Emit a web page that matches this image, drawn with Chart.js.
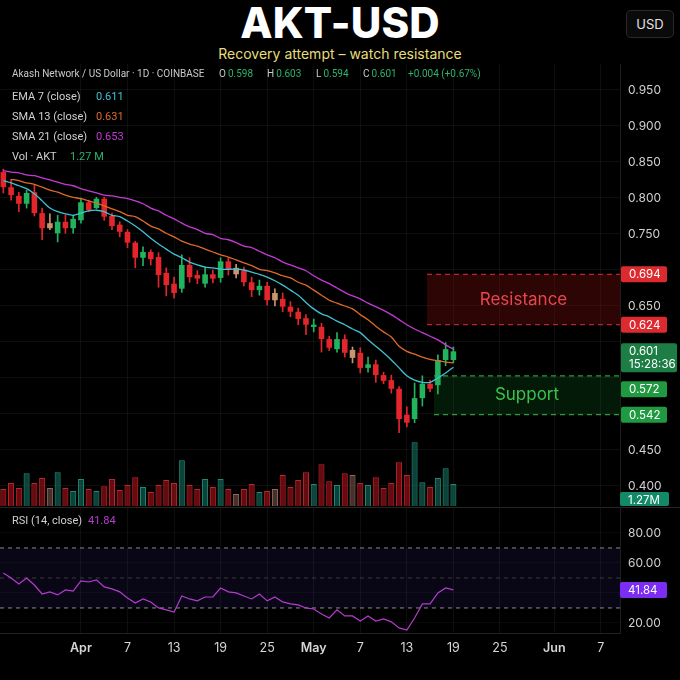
<!DOCTYPE html>
<html>
<head>
<meta charset="utf-8">
<title>AKT-USD</title>
<script src="https://cdn.jsdelivr.net/npm/chart.js@4.4.1/dist/chart.umd.min.js"></script>
<style>
  html, body { margin: 0; padding: 0; background: #000; }
  body { width: 680px; height: 680px; position: relative; overflow: hidden; font-family: Inter, "Noto Sans", sans-serif; color: #cfcfcf; }
  .box { position: absolute; left: 0; width: 680px; }
  #mainBox { top: 64px; height: 442px; }
  #rsiBox { top: 507px; height: 173px; }
  .txt { position: absolute; white-space: nowrap; z-index: 2; }
  #title { top: 1px; left: 0; width: 680px; text-align: center; font-size: 42px; font-weight: 800; line-height: 44px; color: #fff; letter-spacing: 0.2px; }
  #subtitle { top: 45px; left: 0; width: 680px; text-align: center; font-size: 14px; line-height: 18px; color: #e6de78; }
  #usd { top: 10px; left: 626px; width: 46px; height: 26px; border: 1px solid #2a2a2a; border-radius: 5px; background: #0a0a0a; color: #e2e2e2; font-size: 13px; line-height: 26px; text-align: center; z-index: 2; position: absolute; }
  .info { font-family: Roboto, sans-serif; font-size: 10px; line-height: 14px; color: #c9c9c9; }
  .leg { font-family: Roboto, sans-serif; font-size: 11px; line-height: 14px; color: #d0d0d0; }
  .up { color: #2db36b; }
</style>
</head>
<body>
<div id="title" class="txt">AKT-USD</div>
<div id="subtitle" class="txt">Recovery attempt – watch resistance</div>
<div id="usd">USD</div>
<div id="overlay"></div>
<div id="mainBox" class="box"><canvas id="mainCanvas"></canvas></div>
<div id="rsiBox" class="box"><canvas id="rsiCanvas"></canvas></div>

<script>
// --- Data (daily candles, first candle = firstDay) ---
const firstDay = '2025-03-22';

const opens = [
  0.836, 0.815, 0.803, 0.792, 0.808, 0.779, 0.765, 0.751, 0.767, 0.758,
  0.769, 0.794, 0.786, 0.799, 0.775, 0.763, 0.753, 0.738, 0.717, 0.725,
  0.718, 0.696, 0.681, 0.674, 0.707, 0.693, 0.681, 0.694, 0.689, 0.712,
  0.703, 0.699, 0.683, 0.672, 0.678, 0.668, 0.660, 0.649, 0.642, 0.633,
  0.621, 0.621, 0.604, 0.590, 0.604, 0.589, 0.585, 0.564, 0.569, 0.554,
  0.547, 0.535, 0.499, 0.493, 0.522, 0.542, 0.540, 0.575, 0.575
];
const highs = [
  0.840, 0.826, 0.808, 0.811, 0.819, 0.786, 0.778, 0.776, 0.776, 0.776,
  0.800, 0.797, 0.801, 0.801, 0.779, 0.767, 0.756, 0.740, 0.732, 0.728,
  0.724, 0.703, 0.690, 0.721, 0.717, 0.699, 0.704, 0.700, 0.717, 0.717,
  0.708, 0.704, 0.690, 0.686, 0.683, 0.674, 0.668, 0.656, 0.647, 0.638,
  0.632, 0.626, 0.608, 0.613, 0.610, 0.593, 0.592, 0.579, 0.575, 0.558,
  0.554, 0.538, 0.510, 0.543, 0.553, 0.547, 0.582, 0.599, 0.593
];
const lows = [
  0.807, 0.797, 0.781, 0.786, 0.775, 0.742, 0.756, 0.739, 0.751, 0.751,
  0.765, 0.781, 0.785, 0.769, 0.756, 0.746, 0.731, 0.703, 0.706, 0.707,
  0.676, 0.664, 0.661, 0.669, 0.683, 0.681, 0.676, 0.682, 0.683, 0.693,
  0.689, 0.678, 0.663, 0.665, 0.651, 0.650, 0.642, 0.635, 0.624, 0.610,
  0.614, 0.586, 0.588, 0.586, 0.579, 0.571, 0.557, 0.558, 0.544, 0.542,
  0.529, 0.474, 0.482, 0.488, 0.511, 0.531, 0.528, 0.567, 0.571
];
const closes = [
  0.815, 0.804, 0.792, 0.807, 0.779, 0.758, 0.758, 0.767, 0.758, 0.771,
  0.794, 0.783, 0.799, 0.774, 0.761, 0.753, 0.738, 0.717, 0.725, 0.715,
  0.693, 0.679, 0.668, 0.707, 0.690, 0.688, 0.694, 0.688, 0.712, 0.701,
  0.694, 0.683, 0.672, 0.678, 0.658, 0.658, 0.649, 0.642, 0.632, 0.624,
  0.624, 0.604, 0.592, 0.604, 0.585, 0.578, 0.564, 0.569, 0.554, 0.546,
  0.535, 0.493, 0.488, 0.522, 0.542, 0.535, 0.575, 0.590, 0.587
];
// candles the source paints in the neutral (tan) colour
const flatCandles = [6, 30, 35, 45];

const ema7 = [
  0.824, 0.821, 0.817, 0.813, 0.806, 0.796, 0.786, 0.781, 0.778, 0.776,
  0.779, 0.782, 0.783, 0.781, 0.776, 0.774, 0.768, 0.761, 0.753, 0.744,
  0.736, 0.729, 0.722, 0.717, 0.711, 0.707, 0.704, 0.703, 0.701, 0.701,
  0.701, 0.700, 0.697, 0.694, 0.690, 0.685, 0.679, 0.672, 0.665, 0.655,
  0.646, 0.639, 0.635, 0.629, 0.624, 0.618, 0.613, 0.603, 0.594, 0.585,
  0.575, 0.564, 0.553, 0.547, 0.544, 0.544, 0.550, 0.557, 0.565
];
const sma13 = [
  null,  0.826, 0.824, 0.821, 0.819, 0.815, 0.811, 0.808, 0.804, 0.801,
  0.799, 0.796, 0.793, 0.789, 0.785, 0.781, 0.776, 0.774, 0.768, 0.761,
  0.757, 0.751, 0.746, 0.740, 0.736, 0.733, 0.729, 0.725, 0.721, 0.718,
  0.714, 0.710, 0.706, 0.701, 0.699, 0.696, 0.692, 0.689, 0.683, 0.679,
  0.672, 0.665, 0.658, 0.654, 0.650, 0.646, 0.638, 0.631, 0.622, 0.614,
  0.607, 0.594, 0.587, 0.583, 0.579, 0.576, 0.574, 0.572, 0.571
];
const sma21 = [
  0.838, 0.836, 0.835, 0.832, 0.831, 0.828, 0.825, 0.822, 0.819, 0.817,
  0.813, 0.810, 0.807, 0.804, 0.803, 0.801, 0.799, 0.796, 0.792, 0.786,
  0.782, 0.776, 0.771, 0.765, 0.760, 0.756, 0.751, 0.749, 0.744, 0.742,
  0.738, 0.733, 0.731, 0.726, 0.721, 0.717, 0.711, 0.707, 0.703, 0.699,
  0.692, 0.686, 0.681, 0.675, 0.669, 0.664, 0.660, 0.654, 0.649, 0.644,
  0.638, 0.631, 0.624, 0.618, 0.613, 0.608, 0.603, 0.596, 0.590
];
// volume in millions of AKT
const volume = [
  0.98, 1.33, 1.04, 1.90, 1.33, 1.62, 1.04, 1.96, 1.04, 0.87,
  1.56, 0.98, 0.87, 1.15, 1.56, 0.92, 1.21, 1.67, 1.10, 0.81,
  1.21, 1.50, 1.33, 2.65, 1.21, 0.98, 1.56, 1.10, 1.56, 0.98,
  0.69, 0.98, 1.27, 0.81, 0.87, 0.98, 1.79, 1.10, 1.50, 1.96,
  1.27, 2.42, 1.44, 1.21, 1.90, 1.79, 1.33, 1.21, 1.67, 1.04,
  1.33, 2.54, 1.79, 3.69, 1.38, 1.10, 1.62, 2.19, 1.27
];
const rsi = [
  53.3, 50.0, 46.0, 50.0, 45.3, 39.3, 40.7, 38.7, 42.0, 41.3,
  48.0, 47.3, 48.7, 44.0, 42.7, 40.7, 36.7, 33.3, 36.0, 34.0,
  30.0, 28.7, 27.3, 38.0, 36.0, 34.7, 37.3, 37.3, 43.3, 40.7,
  40.0, 38.0, 36.0, 39.3, 34.7, 37.3, 34.0, 32.7, 32.0, 30.0,
  29.3, 26.0, 23.3, 28.7, 24.7, 24.7, 21.3, 24.7, 21.3, 22.7,
  20.7, 16.7, 15.3, 23.3, 32.7, 32.7, 40.0, 43.3, 42.0
];

// --- Axes ---
const tickDays   = ['2025-04-01', '2025-04-07', '2025-04-13', '2025-04-19', '2025-04-25', '2025-05-01',
                    '2025-05-07', '2025-05-13', '2025-05-19', '2025-05-25', '2025-06-01', '2025-06-07'];
const tickLabels = ['Apr', '7', '13', '19', '25', 'May', '7', '13', '19', '25', 'Jun', '7'];
const dayRange   = [-0.43, 79.47];
const priceTicks = [0.40, 0.45, 0.50, 0.55, 0.60, 0.65, 0.70, 0.75, 0.80, 0.85, 0.90, 0.95];
const priceRange = [0.3722, 0.9861];
const volumeMax  = 25.6;
const rsiTicks   = [20, 40, 60, 80];
const rsiRange   = [13.3, 97.3];
const rsiBands   = [30, 50, 70];

// --- Zones and header values (as printed on the source) ---
const resistanceZone = [0.624, 0.694];
const resistanceTags = ['0.624', '0.694'];
const supportZone    = [0.499, 0.553];
const supportTags    = ['0.542', '0.572'];
const zoneStartDay   = [54.6, 55.5]; // resistance, support
const ohlcText       = ['0.598', '0.603', '0.594', '0.601'];
const changeText     = '+0.004 (+0.67%)';
const maText         = ['0.611', '0.631', '0.653'];
const volText        = ['1.27 M', '1.27M'];
const rsiText        = '41.84';
const countdownText  = '15:28:36';

// --- Colours ---
const UP = '#22b35e', DOWN = '#e3262c', FLAT = '#c9956e';
const RED_TAG = '#dc2a2f', GREEN_TAG = '#1f9a40';
const GRID = 'rgba(255,255,255,0.055)';
const FONT = 'Inter';

const dayIndex = d => Math.round((Date.parse(d) - Date.parse(firstDay)) / 86400000);
const tickIdx = tickDays.map(dayIndex);

const candleColors = opens.map((o, i) =>
  flatCandles.includes(i) ? FLAT : (closes[i] >= o ? UP : DOWN));
const volFill = candleColors.map(c =>
  c === UP ? 'rgba(22,120,100,0.55)' : c === DOWN ? 'rgba(165,18,24,0.62)' : 'rgba(140,100,84,0.5)');
const volBorder = candleColors.map(c =>
  c === UP ? '#1f8a77' : c === DOWN ? '#bf262b' : '#8d6c60');

// --- Header text ---
function addText(parent, cls, left, top, html) {
  const el = document.createElement('div');
  el.className = 'txt ' + cls;
  el.style.left = left + 'px';
  el.style.top = top + 'px';
  el.innerHTML = html;
  parent.appendChild(el);
  return el;
}
const overlay = document.getElementById('overlay');
addText(overlay, 'info', 12, 67, 'Akash Network / US Dollar · 1D · COINBASE');
['O', 'H', 'L', 'C'].forEach((k, i) => {
  addText(overlay, 'info', [219, 267, 316, 363][i], 67, k + '<span class="up" style="margin-left:2px">' + ohlcText[i] + '</span>');
});
addText(overlay, 'info up', 408, 67, changeText);

const maRows = [['EMA 7 (close)', '#3fc2d4'], ['SMA 13 (close)', '#de6a2c'], ['SMA 21 (close)', '#c23bd4']];
maRows.forEach((r, i) => {
  addText(overlay, 'leg', 12, 90 + i * 20, r[0]);
  addText(overlay, 'leg', 96, 90 + i * 20, '<span style="color:' + r[1] + '">' + maText[i] + '</span>');
});
addText(overlay, 'leg', 12, 150, 'Vol · AKT');
addText(overlay, 'leg', 70, 150, '<span class="up">' + volText[0] + '</span>');
addText(overlay, 'leg', 12, 514, 'RSI (14, close)');
addText(overlay, 'leg', 88, 514, '<span style="color:#b63bd0">' + rsiText + '</span>');

// --- Canvas helpers ---
function drawTag(ctx, x, top, w, h, bg, lines) {
  ctx.fillStyle = bg;
  ctx.beginPath();
  ctx.roundRect(x, top, w, h, 2);
  ctx.fill();
  ctx.fillStyle = '#fff';
  ctx.font = '11.5px ' + FONT;
  ctx.textAlign = 'left';
  ctx.textBaseline = 'middle';
  lines.forEach((t, i) => ctx.fillText(t, x + 8, top + 8.5 + i * 13));
}

function nearTag(value, tagValues, tol) {
  return tagValues.some(v => Math.abs(v - value) < tol);
}

// keep the plot area flush with the canvas edges
function noPad(axis) {
  axis.paddingTop = 0;
  axis.paddingBottom = 0;
  axis.paddingLeft = 0;
  axis.paddingRight = 0;
}

const lastIdx = closes.length - 1;
const priceTagValues = [...resistanceZone, closes[lastIdx], ...supportZone];

// zones behind the candles, price tags on the scale
const zonePlugin = {
  id: 'zones',
  beforeDatasetsDraw(chart) {
    const { ctx, chartArea, scales } = chart;
    const zones = [
      { range: resistanceZone, start: zoneStartDay[0], name: 'Resistance', fill: 'rgba(150,16,16,0.30)', line: '#b5272c', text: '#e8464e' },
      { range: supportZone, start: zoneStartDay[1], name: 'Support', fill: 'rgba(22,130,40,0.20)', line: '#2c9c3c', text: '#3dc34d' }
    ];
    ctx.save();
    ctx.beginPath();
    ctx.rect(chartArea.left, chartArea.top, chartArea.width, chartArea.height);
    ctx.clip();
    zones.forEach(z => {
      const x0 = scales.x.getPixelForValue(z.start), x1 = chartArea.right;
      const yTop = scales.y.getPixelForValue(z.range[1]);
      const yBot = scales.y.getPixelForValue(z.range[0]);
      ctx.fillStyle = z.fill;
      ctx.fillRect(x0, yTop, x1 - x0, yBot - yTop);
      ctx.strokeStyle = z.line;
      ctx.lineWidth = 1.2;
      ctx.setLineDash([5, 4]);
      [yTop, yBot].forEach(yy => {
        ctx.beginPath();
        ctx.moveTo(x0, yy);
        ctx.lineTo(x1, yy);
        ctx.stroke();
      });
      ctx.setLineDash([]);
      ctx.fillStyle = z.text;
      ctx.font = '17px ' + FONT;
      ctx.textAlign = 'center';
      ctx.textBaseline = 'middle';
      ctx.fillText(z.name, (x0 + x1) / 2, (yTop + yBot) / 2);
    });
    ctx.restore();
  },
  afterDraw(chart) {
    const { ctx, chartArea, scales: { y } } = chart;
    const x = chartArea.right + 1;
    const tags = [
      { value: resistanceZone[1], lines: [resistanceTags[1]], bg: RED_TAG, w: 46, h: 16 },
      { value: resistanceZone[0], lines: [resistanceTags[0]], bg: RED_TAG, w: 46, h: 16 },
      { value: closes[lastIdx], lines: [ohlcText[3], countdownText], bg: '#1c7e45', w: 56, h: 29 },
      { value: supportZone[1], lines: [supportTags[1]], bg: GREEN_TAG, w: 46, h: 16 },
      { value: supportZone[0], lines: [supportTags[0]], bg: GREEN_TAG, w: 46, h: 16 }
    ];
    tags.forEach(t => { t.top = y.getPixelForValue(t.value) - 8; });
    tags.sort((a, b) => a.top - b.top);
    // push overlapping tags downward, like the price scale does
    let prevBottom = -Infinity;
    tags.forEach(t => {
      if (t.top < prevBottom) t.top = prevBottom + 9;
      prevBottom = t.top + t.h;
    });
    ctx.save();
    tags.forEach(t => drawTag(ctx, x, t.top, t.w, t.h, t.bg, t.lines));
    drawTag(ctx, x - 1, chartArea.bottom - 14, 49, 14, '#138a67', [volText[1]]);
    ctx.restore();
  }
};

// --- Price + volume pane ---
Chart.defaults.font.family = FONT;
Chart.defaults.color = '#d0d0d0';

const xScale = (showLabels) => ({
  type: 'linear',
  min: dayRange[0],
  max: dayRange[1],
  offset: false,
  grid: { color: GRID, drawTicks: false, offset: false },
  border: { display: showLabels, color: '#222' },
  afterBuildTicks: axis => { axis.ticks = tickIdx.map(v => ({ value: v })); },
  ticks: {
    display: showLabels,
    autoSkip: false,
    maxRotation: 0,
    padding: 8,
    color: '#d6d6d6',
    font: ctx => ({ family: FONT, size: 12.5, weight: isNaN(tickLabels[ctx.index]) ? '600' : '400' }),
    callback: (v, i) => tickLabels[i]
  },
  afterFit: axis => { axis.height = showLabels ? 47 : 0; noPad(axis); }
});

new Chart(document.getElementById('mainCanvas'), {
  type: 'bar',
  data: {
    datasets: [
      {
        type: 'line', label: 'EMA 7', data: ema7.map((v, i) => ({ x: i, y: v })),
        borderColor: '#3fc2d4', borderWidth: 1.3, pointRadius: 0, tension: 0.3, order: 0, yAxisID: 'y'
      },
      {
        type: 'line', label: 'SMA 13', data: sma13.map((v, i) => ({ x: i, y: v })),
        borderColor: '#de6a2c', borderWidth: 1.3, pointRadius: 0, tension: 0.3, order: 0, yAxisID: 'y'
      },
      {
        type: 'line', label: 'SMA 21', data: sma21.map((v, i) => ({ x: i, y: v })),
        borderColor: '#c23bd4', borderWidth: 1.3, pointRadius: 0, tension: 0.3, order: 0, yAxisID: 'y'
      },
      {
        label: 'Body', data: opens.map((o, i) => ({ x: i, y: [o, closes[i]] })),
        backgroundColor: candleColors, borderWidth: 0, barPercentage: 0.72, categoryPercentage: 1,
        grouped: false, order: 1, yAxisID: 'y'
      },
      {
        label: 'Wick', data: lows.map((l, i) => ({ x: i, y: [l, highs[i]] })),
        backgroundColor: candleColors, borderWidth: 0, barThickness: 1,
        grouped: false, order: 2, yAxisID: 'y'
      },
      {
        label: 'Volume', data: volume.map((v, i) => ({ x: i, y: v })),
        backgroundColor: volFill, borderColor: volBorder, borderWidth: 1,
        barPercentage: 0.78, categoryPercentage: 1, grouped: false, order: 3, yAxisID: 'vol'
      }
    ]
  },
  options: {
    responsive: true,
    maintainAspectRatio: false,
    animation: false,
    layout: { padding: 0 },
    plugins: { legend: { display: false }, tooltip: { enabled: false } },
    scales: {
      x: xScale(false),
      y: {
        type: 'linear',
        position: 'right',
        min: priceRange[0],
        max: priceRange[1],
        grid: { color: GRID, drawTicks: false },
        border: { display: true, color: '#1e1e1e' },
        afterBuildTicks: axis => { axis.ticks = priceTicks.map(v => ({ value: v })); },
        ticks: {
          padding: 8,
          color: '#d0d0d0',
          font: { size: 12, family: FONT },
          callback: v => nearTag(v, priceTagValues, 0.02) ? '' : v.toFixed(3)
        },
        afterFit: axis => { axis.width = 60; noPad(axis); }
      },
      vol: { type: 'linear', display: false, min: 0, max: volumeMax }
    }
  },
  plugins: [zonePlugin]
});

// --- RSI pane ---
const rsiPlugin = {
  id: 'rsiBand',
  beforeDatasetsDraw(chart) {
    const { ctx, chartArea, scales: { y } } = chart;
    const yHi = y.getPixelForValue(rsiBands[2]), yMid = y.getPixelForValue(rsiBands[1]), yLo = y.getPixelForValue(rsiBands[0]);
    ctx.save();
    ctx.fillStyle = 'rgba(70,50,170,0.13)';
    ctx.fillRect(chartArea.left, yHi, chartArea.width, yLo - yHi);
    ctx.setLineDash([4, 4]);
    ctx.lineWidth = 1;
    [[yHi, '#8a8a8a'], [yLo, '#8a8a8a'], [yMid, '#3c3c3c']].forEach(([yy, c]) => {
      ctx.strokeStyle = c;
      ctx.beginPath();
      ctx.moveTo(chartArea.left, yy);
      ctx.lineTo(chartArea.right, yy);
      ctx.stroke();
    });
    ctx.restore();
  },
  afterDraw(chart) {
    const { ctx, chartArea, scales: { y } } = chart;
    ctx.save();
    ctx.strokeStyle = '#262626';
    ctx.lineWidth = 1;
    ctx.beginPath();
    ctx.moveTo(0, 0.5);
    ctx.lineTo(chart.width, 0.5);
    ctx.stroke();
    drawTag(ctx, chartArea.right, y.getPixelForValue(rsi[lastIdx]) - 8, 47, 16, '#7b2ef2', [rsiText]);
    ctx.restore();
  }
};

new Chart(document.getElementById('rsiCanvas'), {
  type: 'line',
  data: {
    datasets: [{
      label: 'RSI', data: rsi.map((v, i) => ({ x: i, y: v })),
      borderColor: '#b63bd0', borderWidth: 1.2, pointRadius: 0, tension: 0
    }]
  },
  options: {
    responsive: true,
    maintainAspectRatio: false,
    animation: false,
    layout: { padding: 0 },
    plugins: { legend: { display: false }, tooltip: { enabled: false } },
    scales: {
      x: xScale(true),
      y: {
        type: 'linear',
        position: 'right',
        min: rsiRange[0],
        max: rsiRange[1],
        grid: { color: 'rgba(255,255,255,0.035)', drawTicks: false },
        border: { display: true, color: '#1e1e1e' },
        afterBuildTicks: axis => { axis.ticks = rsiTicks.map(v => ({ value: v })); },
        ticks: {
          padding: 8,
          color: '#d0d0d0',
          font: { size: 12, family: FONT },
          callback: v => nearTag(v, [rsi[lastIdx]], 6) ? '' : v.toFixed(2)
        },
        afterFit: axis => { axis.width = 60; noPad(axis); }
      }
    }
  },
  plugins: [rsiPlugin]
});
</script>
</body>
</html>
